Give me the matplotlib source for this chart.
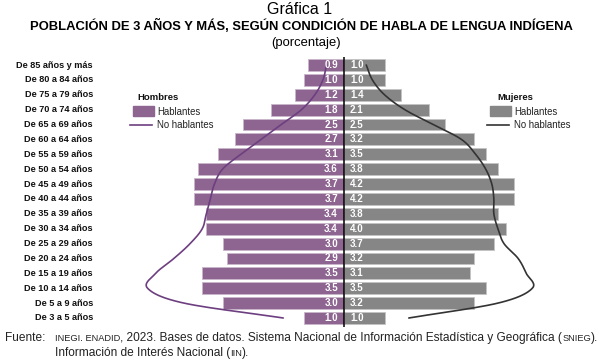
import numpy as np
import matplotlib
matplotlib.use("Agg")
import matplotlib.pyplot as plt
from matplotlib.patches import Rectangle
from matplotlib.lines import Line2D

plt.rcParams['font.family'] = ['Liberation Sans', 'DejaVu Sans']

# ---------------- data (top row first) ----------------
age_groups = ["De 85 años y más", "De 80 a 84 años", "De 75 a 79 años", "De 70 a 74 años",
              "De 65 a 69 años", "De 60 a 64 años", "De 55 a 59 años", "De 50 a 54 años",
              "De 45 a 49 años", "De 40 a 44 años", "De 35 a 39 años", "De 30 a 34 años",
              "De 25 a 29 años", "De 20 a 24 años", "De 15 a 19 años", "De 10 a 14 años",
              "De 5 a 9 años", "De 3 a 5 años"]
men_speakers = [0.9, 1.0, 1.2, 1.8, 2.5, 2.7, 3.1, 3.6, 3.7, 3.7, 3.4, 3.4, 3.0, 2.9, 3.5, 3.5, 3.0, 1.0]
women_speakers = [1.0, 1.0, 1.4, 2.1, 2.5, 3.2, 3.5, 3.8, 4.2, 4.2, 3.8, 4.0, 3.7, 3.2, 3.1, 3.5, 3.2, 1.0]
men_non_speakers = [0.43, 0.52, 0.72, 1.05, 1.55, 2.05, 2.55, 3.0, 3.2, 3.3, 3.4, 3.5, 3.8, 4.2, 4.65, 4.85, 3.95, 1.5]
women_non_speakers = [0.55, 0.7, 1.0, 1.5, 2.2, 2.9, 3.25, 3.5, 3.65, 3.7, 3.7, 3.8, 3.95, 4.3, 4.5, 4.65, 3.8, 1.6]

MEN_BAR = "#8d6590"
WOMEN_BAR = "#868686"
MEN_LINE = "#6d3f80"
WOMEN_LINE = "#333333"

W, H = 600, 361
fig = plt.figure(figsize=(W / 100, H / 100), dpi=100)


def fx(px):
    return px / W


def fy(py):
    return 1 - py / H


# axes geometry (pixels)
cx = 344.0
half = 224.0
unit = 40.5
lim = half / unit
row_top, row_bot = 65.0, 318.0
n = len(age_groups)
sp = (row_bot - row_top) / (n - 1)
ay_top, ay_bot = 57.0, 327.0
ylo = -(ay_bot - row_bot) / sp
yhi = (n - 1) + (row_top - ay_top) / sp

ax = fig.add_axes([fx(cx - half), fy(ay_bot), 2 * half / W, (ay_bot - ay_top) / H])
ax.set_xlim(-lim, lim)
ax.set_ylim(ylo, yhi)
ax.axis('off')

ypos = np.arange(n)[::-1]  # top row = n-1
bh = 0.8
ax.barh(ypos, [-v for v in men_speakers], height=bh, color=MEN_BAR,
        edgecolor="#c9b6cb", linewidth=0.6, zorder=2)
ax.barh(ypos, women_speakers, height=bh, color=WOMEN_BAR,
        edgecolor="#c4c4c4", linewidth=0.6, zorder=2)

for y, m, w in zip(ypos, men_speakers, women_speakers):
    ax.text(-0.15, y, f"{m:.1f}", ha='right', va='center', color='white',
            fontsize=7, fontweight='bold', zorder=4)
    ax.text(0.15, y, f"{w:.1f}", ha='left', va='center', color='white',
            fontsize=7, fontweight='bold', zorder=4)

ax.axvline(0, color='black', lw=1.1, zorder=5)


def catmull_rom(xs, ys, samples=20):
    pts = np.column_stack([xs, ys]).astype(float)
    p = np.vstack([2 * pts[0] - pts[1], pts, 2 * pts[-1] - pts[-2]])
    out = []
    for i in range(1, len(p) - 2):
        p0, p1, p2, p3 = p[i - 1], p[i], p[i + 1], p[i + 2]
        t = np.linspace(0, 1, samples, endpoint=False)[:, None]
        seg = 0.5 * ((2 * p1) + (-p0 + p2) * t + (2 * p0 - 5 * p1 + 4 * p2 - p3) * t ** 2
                     + (-p0 + 3 * p1 - 3 * p2 + p3) * t ** 3)
        out.append(seg)
    out.append(pts[-1][None, :])
    out = np.vstack(out)
    return out[:, 0], out[:, 1]


mx, my = catmull_rom([-v for v in men_non_speakers], ypos)
ax.plot(mx, my, color=MEN_LINE, lw=1.2, zorder=3, solid_capstyle='round')
wx, wy = catmull_rom(women_non_speakers, ypos)
ax.plot(wx, wy, color=WOMEN_LINE, lw=1.2, zorder=3, solid_capstyle='round')

# category labels
for y, lab in zip(ypos, age_groups):
    py = row_bot - y * sp
    fig.text(fx(93), fy(py), lab, ha='right', va='center', fontsize=6.6,
             fontweight='bold', color='#111111')

# titles
fig.text(fx(300), fy(9), "Gráfica 1", ha='center', va='center', fontsize=11.5)
fig.text(fx(301), fy(26), "POBLACIÓN DE 3 AÑOS Y MÁS, SEGÚN CONDICIÓN DE HABLA DE LENGUA INDÍGENA",
         ha='center', va='center', fontsize=9.4, fontweight='bold')
fig.text(fx(306), fy(43), "(porcentaje)", ha='center', va='center', fontsize=9.4)


# legends
def legend(x_title, x_patch, x_text, title, bar_color, line_color):
    fig.text(fx(x_title), fy(98), title, ha='left', va='center', fontsize=6.8,
             fontweight='bold', color='#111111')
    fig.patches.append(Rectangle((fx(x_patch), fy(116)), 21 / W, 10 / H, color=bar_color,
                                 transform=fig.transFigure, figure=fig))
    fig.text(fx(x_text), fy(112), "Hablantes", ha='left', va='center', fontsize=6.9, color='#222222')
    fig.lines.append(Line2D([fx(x_patch - 3), fx(x_patch + 19)], [fy(125), fy(125)],
                            color=line_color, lw=1.2, transform=fig.transFigure, figure=fig))
    fig.text(fx(x_text), fy(125), "No hablantes", ha='left', va='center', fontsize=6.9, color='#222222')


legend(137, 133, 157, "Hombres", MEN_BAR, MEN_LINE)
legend(497, 490, 514, "Mujeres", WOMEN_BAR, WOMEN_LINE)

# footer with small caps parts
fs = 8.6
sc = 6.7
fig.text(fx(5), fy(341), "Fuente:", ha='left', va='baseline', fontsize=fs, color='#222222')

line1 = [("INEGI. ENADID", sc), (", 2023. Bases de datos. Sistema Nacional de Información Estadística y Geográfica (", fs),
         ("SNIEG", sc), (").", fs)]
line2 = [("Información de Interés Nacional (", fs), ("IIN", sc), (").", fs)]

fig.canvas.draw()
renderer = fig.canvas.get_renderer()


def draw_line(parts, x0, ybase):
    x = x0
    for s, size in parts:
        t = fig.text(fx(x), fy(ybase), s, ha='left', va='baseline', fontsize=size, color='#222222')
        bb = t.get_window_extent(renderer=renderer)
        x += bb.width


draw_line(line1, 55, 341)
draw_line(line2, 55, 356)

fig.savefig("out.png", dpi=100)
